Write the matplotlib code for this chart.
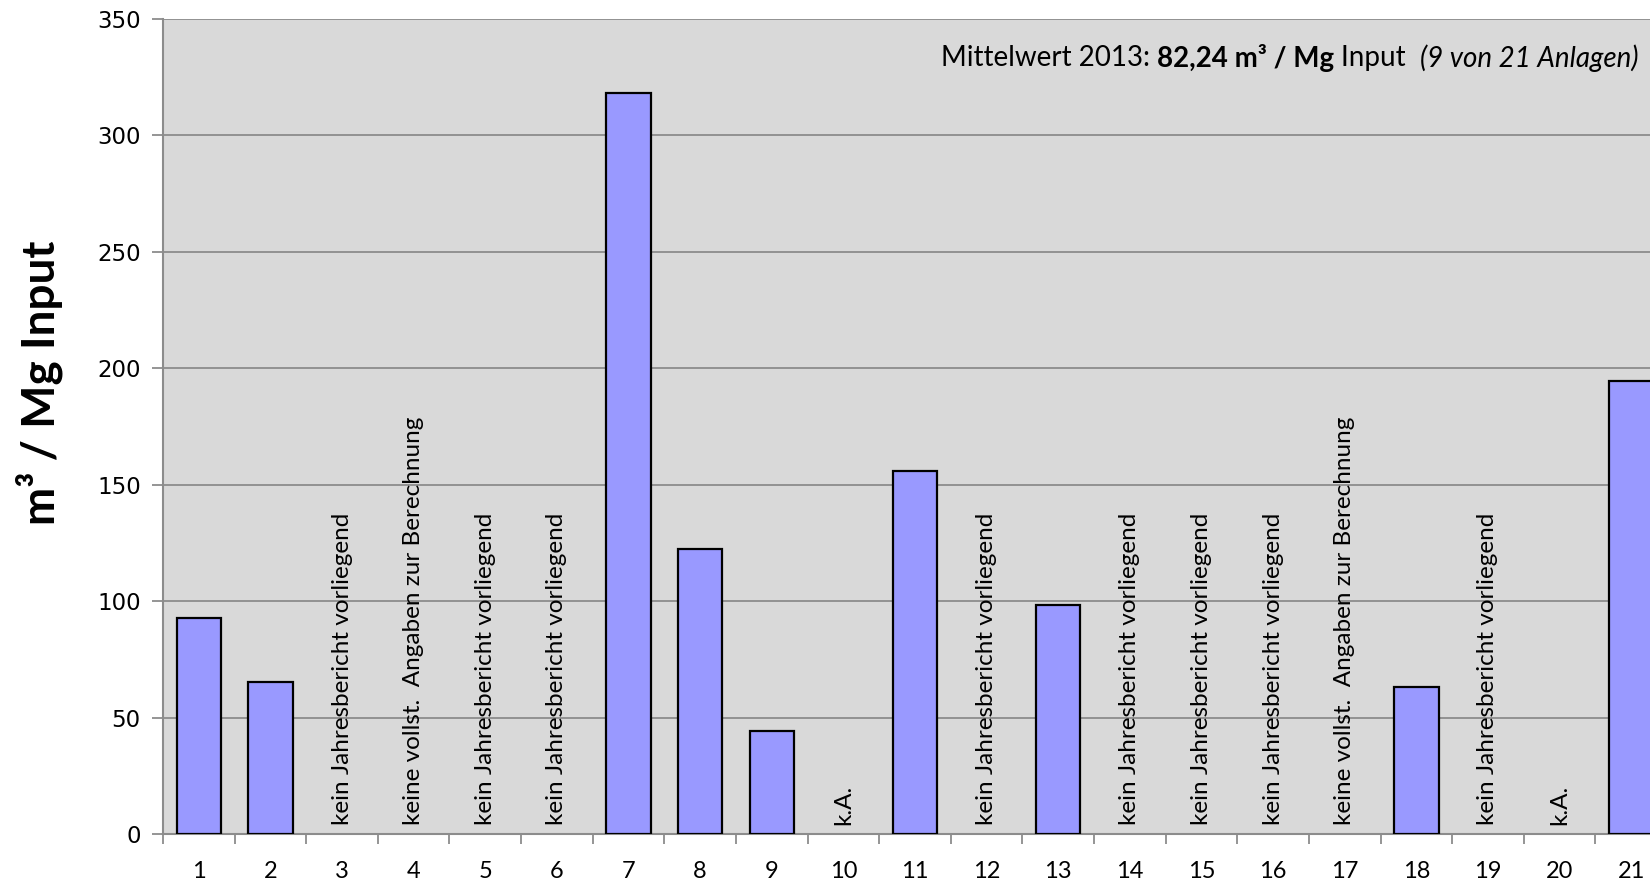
import matplotlib
matplotlib.use("Agg")
import matplotlib.pyplot as plt
from matplotlib.ticker import MultipleLocator

# Anlagen 1..21, None = kein Wert
anlagen = list(range(1, 22))
werte = [93.0, 65.5, None, None, None, None, 318.4, 122.4, 44.3, None,
         155.8, None, 98.5, None, None, None, None, 63.2, None, None, 194.7]
KJ = "kein Jahresbericht vorliegend"
KV = "keine vollst.  Angaben zur Berechnung"
KA = "k.A."
hinweise = [None, None, KJ, KV, KJ, KJ, None, None, None, KA,
            None, KJ, None, KJ, KJ, KJ, KV, None, KJ, KA, None]

TXT = "Lato"

fig = plt.figure(figsize=(16.5, 8.85), dpi=100)
fig.patch.set_facecolor("white")
ax = fig.add_axes([0.0988, 0.0571, 0.9115, 0.9215])
ax.set_facecolor("#d9d9d9")

xs = [a for a, v in zip(anlagen, werte) if v is not None]
ys = [v for v in werte if v is not None]
ax.bar(xs, ys, width=0.62, color="#9999ff", edgecolor="black", linewidth=1.6, zorder=3)

for a, h in zip(anlagen, hinweise):
    if h:
        ax.annotate(h, xy=(a, 0), xytext=(0, 7), textcoords="offset points",
                    rotation=90, ha="center", va="bottom", fontsize=17.5,
                    family=TXT, color="black", zorder=4)

ax.set_xlim(0.5, 21.5)
ax.set_ylim(0, 350)
ax.yaxis.set_major_locator(MultipleLocator(50))
ax.grid(axis="y", color="#8c8c8c", linewidth=1.3, zorder=1)
ax.set_axisbelow(True)

ax.set_xticks(anlagen)
ax.set_xticklabels([str(a) for a in anlagen], family=TXT, fontsize=17)
ax.set_xticks([a + 0.5 for a in [0] + anlagen], minor=True)
ax.tick_params(axis="x", which="major", length=0, pad=19)
ax.tick_params(axis="x", which="minor", length=7, color="#8c8c8c", width=1.3)
ax.tick_params(axis="y", length=8, color="#8c8c8c", width=1.3, labelsize=16.5, pad=8)
for lab in ax.get_yticklabels():
    lab.set_family("DejaVu Sans")

for s in ["top", "right"]:
    ax.spines[s].set_visible(False)
for s in ["left", "bottom"]:
    ax.spines[s].set_color("#8c8c8c")
    ax.spines[s].set_linewidth(1.5)

fig.text(37 / 1568, 1 - 364 / 841, "m³ / Mg Input", rotation=90, ha="center",
         va="center", family=TXT, fontsize=33, fontweight="bold")

# Mittelwert-Hinweis, rechtsbündig aus drei Teilen
fig.canvas.draw()
r = fig.canvas.get_renderer()
x_right = 1638 / 1650
y_txt = 1 - 58 / 885
teile = [("(9 von 21 Anlagen)", dict(style="italic")),
         ("Input  ", dict()),
         ("82,24 m³ / Mg ", dict(weight="bold")),
         ("Mittelwert 2013: ", dict())]
x = x_right
for s, kw in teile:
    t = fig.text(x, y_txt, s, ha="right", va="center", fontsize=20, family=TXT, **kw)
    bb = t.get_window_extent(renderer=r)
    x -= bb.width / fig.bbox.width

fig.savefig("out.png", dpi=100)
